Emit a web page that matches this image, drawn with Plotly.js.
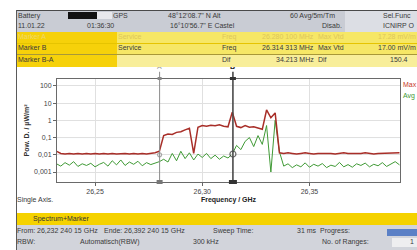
<!DOCTYPE html>
<html><head><meta charset="utf-8">
<script src="https://cdn.plot.ly/plotly-3.0.1.min.js"></script>
<style>
html,body{margin:0;padding:0;width:417px;height:250px;overflow:hidden;background:#fff;font-family:"Liberation Sans",Arial,sans-serif;}
#plot{position:absolute;left:0;top:0;width:417px;height:250px;}
.b{position:absolute;}
.t{position:absolute;font-size:7px;line-height:10px;color:#3a3a3a;white-space:nowrap;}
.f{color:#efd76a;}
.fr{color:#ddc65a;}
</style></head><body>
<div id="plot"></div>
<!-- header chrome -->
<div class="b" style="left:16px;top:10px;width:401px;height:1px;background:#4a4a4a"></div>
<div class="b" style="left:16px;top:10px;width:1px;height:240px;background:#5a5a5a"></div>
<div class="b" style="left:17px;top:11px;width:400px;height:21px;background:#c9ccd4"></div>
<div class="b" style="left:345px;top:11px;width:72px;height:21px;background:#dcdee4"></div>
<div class="b" style="left:68px;top:12px;width:29px;height:7px;background:#111"></div>
<div class="b" style="left:97px;top:12px;width:15px;height:7px;background:#e8e8ec"></div>
<div class="b" style="left:17px;top:32px;width:100px;height:35px;background:#f6d10a"></div>
<div class="b" style="left:117px;top:32px;width:300px;height:35px;background:#f6e766"></div>
<div class="b" style="left:117px;top:55px;width:300px;height:12px;background:#f8ee9a"></div>
<div class="b" style="left:17px;top:43px;width:400px;height:1px;background:#e6c400"></div>
<div class="b" style="left:17px;top:54px;width:400px;height:1px;background:#a89838"></div>

<div class="t" style="left:18px;top:11px">Battery</div>
<div class="t" style="left:113px;top:11px">GPS</div>
<div class="t" style="left:168px;top:11px">48°12'08.7" N Alt</div>
<div class="t" style="left:290px;top:11px">60 Avg/5m/Tm</div>
<div class="t" style="left:383px;top:11px">Sel.Func</div>
<div class="t" style="left:18px;top:21px">11.01.22</div>
<div class="t" style="left:87px;top:21px">01:36:30</div>
<div class="t" style="left:170px;top:21px">16°10'56.7" E Castel</div>
<div class="t" style="left:322px;top:21px">Disab.</div>
<div class="t" style="left:383px;top:21px">ICNIRP O</div>

<div class="t f" style="left:18px;top:32px">Marker A</div>
<div class="t fr" style="left:118px;top:32px">Service</div>
<div class="t fr" style="left:222px;top:32px">Freq</div>
<div class="t fr" style="left:262px;top:32px">26.280 100 MHz</div>
<div class="t fr" style="left:318px;top:32px">Max Vtd</div>
<div class="t fr" style="left:378px;top:32px">17.28 mV/m</div>

<div class="t" style="left:18px;top:43px">Marker B</div>
<div class="t" style="left:118px;top:43px">Service</div>
<div class="t" style="left:222px;top:43px">Freq</div>
<div class="t" style="left:262px;top:43px">26.314 313 MHz</div>
<div class="t" style="left:318px;top:43px">Max Vtd</div>
<div class="t" style="left:378px;top:43px">17.00 mV/m</div>

<div class="t" style="left:18px;top:55px">Marker B-A</div>
<div class="t" style="left:222px;top:55px">Dif</div>
<div class="t" style="left:276px;top:55px">34.213 MHz</div>
<div class="t" style="left:318px;top:55px">Dif</div>
<div class="t" style="left:390px;top:55px">150.4</div>

<!-- legend labels clipped at right edge -->
<div class="t" style="left:403px;top:80px;color:#c83a2a">Max</div>
<div class="t" style="left:403px;top:91px;color:#3f9a35">Avg</div>

<!-- footer chrome -->
<div class="t" style="left:17px;top:195px">Single Axis.</div>
<div class="b" style="left:17px;top:213px;width:400px;height:12px;background:#f5d200"></div>
<div class="t" style="left:33px;top:214px;color:#333">Spectrum+Marker</div>
<div class="b" style="left:17px;top:225px;width:400px;height:25px;background:#d2d4db"></div>
<div class="b" style="left:387px;top:229px;width:30px;height:7px;background:#5b80c6"></div>
<div class="b" style="left:392px;top:238px;width:25px;height:9px;background:#eeeef0"></div>
<div class="t" style="left:17px;top:226px">From:</div>
<div class="t" style="left:37px;top:226px">26,232 240 15 GHz</div>
<div class="t" style="left:104px;top:226px">Ende:</div>
<div class="t" style="left:124px;top:226px">26,392 240 15 GHz</div>
<div class="t" style="left:213px;top:226px">Sweep Time:</div>
<div class="t" style="left:297px;top:226px">31 ms</div>
<div class="t" style="left:320px;top:226px">Progress:</div>
<div class="t" style="left:17px;top:237px">RBW:</div>
<div class="t" style="left:80px;top:237px">Automatisch(RBW)</div>
<div class="t" style="left:193px;top:237px">300 kHz</div>
<div class="t" style="left:322px;top:237px">No. of Ranges:</div>
<div class="t" style="left:410px;top:237px">1</div>

<script>
// Frequency grid (GHz)
const freqGHz = [
 26.232,26.234,26.236,26.238,26.240,26.242,26.244,26.246,26.248,26.250,
 26.252,26.254,26.256,26.258,26.260,26.262,26.264,26.266,26.268,26.270,
 26.272,26.274,26.276,26.278,26.280,26.282,26.284,26.286,26.288,26.290,
 26.292,26.294,26.296,26.298,26.300,26.302,26.304,26.306,26.308,26.310,
 26.312,26.314,26.316,26.318,26.320,26.322,26.324,26.326,26.328,26.330,
 26.332,26.334,26.336,26.338,26.340,26.342,26.344,26.346,26.348,26.350,
 26.352,26.354,26.356,26.358,26.360,26.362,26.364,26.366,26.368,26.370,
 26.372,26.374,26.376,26.378,26.380,26.382,26.384,26.386,26.388,26.390,
 26.392];
// Max hold power density (µW/m²)
const maxVals = [
 0.016,0.012,0.011,0.012,0.011,0.012,0.011,0.012,0.011,0.012,
 0.011,0.012,0.011,0.012,0.011,0.012,0.012,0.011,0.012,0.011,
 0.012,0.011,0.012,0.013,0.016,0.13,0.16,0.15,0.20,0.22,
 0.28,0.35,0.012,0.40,0.50,0.45,0.52,0.48,0.55,0.45,
 0.42,3.0,0.45,0.38,0.50,0.40,0.42,0.35,0.30,4.0,
 1.4,2.7,0.013,0.012,0.013,0.012,0.011,0.012,0.013,0.012,
 0.011,0.012,0.012,0.013,0.012,0.011,0.012,0.013,0.012,0.012,
 0.011,0.012,0.013,0.012,0.011,0.012,0.012,0.013,0.012,0.013,
 0.013];
// Average power density (µW/m²)
const avgVals = [
 0.0030,0.0022,0.0035,0.0025,0.0040,0.0021,0.0030,0.0024,0.0032,0.0020,
 0.0028,0.0036,0.0022,0.0045,0.0026,0.0050,0.0024,0.0038,0.0028,0.0042,
 0.0023,0.0035,0.0027,0.0033,0.0040,0.0055,0.0038,0.0120,0.0045,0.0160,
 0.0060,0.0130,0.0050,0.0110,0.0070,0.0120,0.0060,0.0095,0.0055,0.0085,
 0.0065,0.0110,0.0350,0.0200,0.0600,0.1000,0.0300,0.1300,0.0400,0.5000,
 0.0010,1.0000,0.0150,0.0022,0.0030,0.0018,0.0026,0.0020,0.0034,0.0019,
 0.0028,0.0022,0.0031,0.0018,0.0025,0.0021,0.0036,0.0020,0.0027,0.0019,
 0.0030,0.0024,0.0033,0.0020,0.0028,0.0023,0.0035,0.0021,0.0029,0.0040,
 0.0026];
const xTickVals = [26.25, 26.30, 26.35];
const xTickText = ['26,25', '26,30', '26,35'];
const yTickVals = [0.001, 0.01, 0.1, 1, 10, 100];
const yTickText = ['0,001', '0,01', '0,1', '1', '10', '100'];
const markerFreq = [26.2801, 26.3143];
const markerLevel = [0.010, 0.011];
const markerNames = ['A', 'B'];

const traces = [
 {x: freqGHz, y: avgVals, type: 'scatter', mode: 'lines', name: 'Avg',
  line: {color: '#3f9a35', width: 1}},
 {x: freqGHz, y: maxVals, type: 'scatter', mode: 'lines', name: 'Max',
  line: {color: '#a82e28', width: 1.5}},
 {x: markerFreq, y: markerLevel, type: 'scatter', mode: 'markers', cliponaxis: false,
  marker: {symbol: 'circle', size: [4, 6], color: '#fff', line: {color: ['#888', '#333'], width: 1.2}}}
];

const shapes = [
 {type: 'line', xref: 'paper', yref: 'y', x0: 0, x1: 1, y0: 0.1, y1: 0.1, line: {color: '#c3dbee', width: 1}, layer: 'below'},
 {type: 'line', xref: 'x', yref: 'paper', x0: markerFreq[0], x1: markerFreq[0], y0: 0, y1: 1.07, line: {color: '#8c8c8c', width: 1}},
 {type: 'line', xref: 'x', yref: 'paper', x0: markerFreq[1], x1: markerFreq[1], y0: 0, y1: 1.07, line: {color: '#4a4a4a', width: 1.6}},
 {type: 'rect', xref: 'x', yref: 'paper', xsizemode: 'pixel', ysizemode: 'pixel', xanchor: markerFreq[0], yanchor: 0, x0: -3, x1: 3, y0: -2, y1: 2, fillcolor: '#777', line: {width: 0}},
 {type: 'rect', xref: 'x', yref: 'paper', xsizemode: 'pixel', ysizemode: 'pixel', xanchor: markerFreq[1], yanchor: 0, x0: -4, x1: 4, y0: -2, y1: 2, fillcolor: '#333', line: {width: 0}},
 {type: 'rect', xref: 'x', yref: 'paper', xsizemode: 'pixel', ysizemode: 'pixel', xanchor: markerFreq[0], yanchor: 1, x0: -2, x1: 2, y0: -1, y1: 2, fillcolor: '#888', line: {width: 0}},
 {type: 'rect', xref: 'x', yref: 'paper', xsizemode: 'pixel', ysizemode: 'pixel', xanchor: markerFreq[1], yanchor: 1, x0: -3, x1: 3, y0: -1, y1: 2, fillcolor: '#333', line: {width: 0}}
];

const annotations = markerNames.map((n, i) => ({
 x: markerFreq[i], y: 1.07, xref: 'x', yref: 'paper', text: i === 1 ? '<b>' + n + '</b>' : n,
 showarrow: false, yanchor: 'bottom', font: {size: 7, color: i === 1 ? '#222' : '#999'}
}));

const layout = {
 width: 417, height: 250,
 margin: {l: 57, r: 17, t: 79, b: 68, pad: 0},
 paper_bgcolor: 'rgba(0,0,0,0)', plot_bgcolor: '#fff',
 showlegend: false,
 font: {family: 'Liberation Sans, Arial, sans-serif', size: 7, color: '#333'},
 xaxis: {range: [26.23224, 26.39224], tickvals: xTickVals, ticktext: xTickText,
  ticks: 'outside', ticklen: 3, tickcolor: '#666', showgrid: true, gridcolor: '#e0e0e0',
  showline: true, linecolor: '#6a6a6a', mirror: true, zeroline: false,
  tickfont: {size: 7, color: '#444'},
  title: {text: '<b>Frequency / GHz</b>', font: {size: 7, color: '#222'}, standoff: 2}},
 yaxis: {type: 'log', range: [-3.58, 2.4], tickvals: yTickVals, ticktext: yTickText,
  ticks: 'outside', ticklen: 3, tickcolor: '#666', showgrid: true, gridcolor: '#e0e0e0',
  showline: true, linecolor: '#6a6a6a', mirror: true, zeroline: false,
  tickfont: {size: 7, color: '#444'},
  title: {text: '<b>Pow. D. / µW/m²</b>', font: {size: 7, color: '#333'}, standoff: 3}},
 shapes: shapes,
 annotations: annotations
};

Plotly.newPlot('plot', traces, layout, {staticPlot: true, displayModeBar: false});
</script>
</body></html>
